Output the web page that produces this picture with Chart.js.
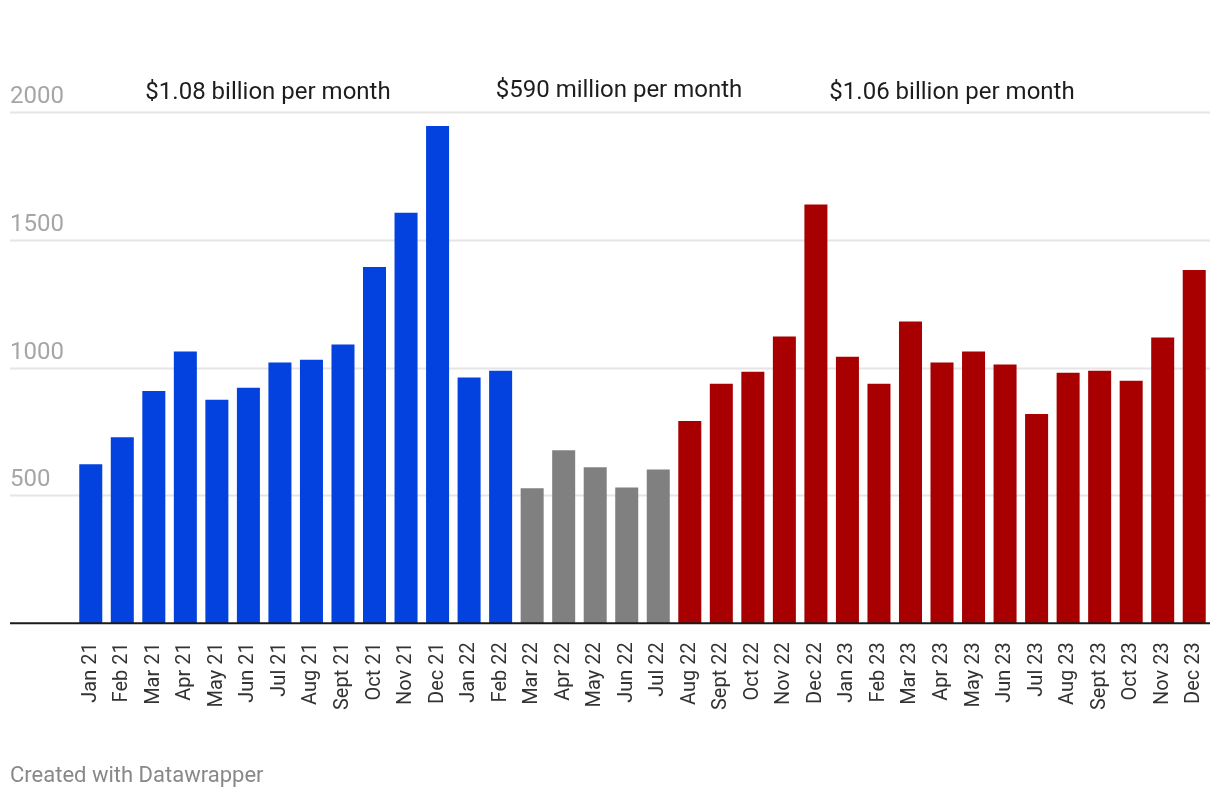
<!DOCTYPE html>
<html>
<head>
<meta charset="utf-8">
<script src="https://cdn.jsdelivr.net/npm/chart.js@4"></script>
<style>
  html, body { margin: 0; padding: 0; background: #fff; }
  #wrap { position: relative; width: 1220px; height: 800px; font-family: Roboto, sans-serif; }
  #chart { position: absolute; left: 0; top: 0; }
  .note { position: absolute; font-size: 24px; color: #1d1d1d; white-space: nowrap; transform: translateX(-50%); }
  #footer { position: absolute; left: 10px; top: 762px; font-size: 22px; color: #888; }
</style>
</head>
<body>
<div id="wrap">
  <canvas id="chart" width="1220" height="800"></canvas>
  <div class="note" style="left:268px; top:77px;">$1.08 billion per month</div>
  <div class="note" style="left:619px; top:75px;">$590 million per month</div>
  <div class="note" style="left:952px; top:77px;">$1.06 billion per month</div>
  <div id="footer">Created with Datawrapper</div>
</div>
<script>
// Monthly values
const months = [
  'Jan 21', 'Feb 21', 'Mar 21', 'Apr 21', 'May 21', 'Jun 21', 'Jul 21', 'Aug 21', 'Sept 21', 'Oct 21', 'Nov 21', 'Dec 21',
  'Jan 22', 'Feb 22', 'Mar 22', 'Apr 22', 'May 22', 'Jun 22', 'Jul 22', 'Aug 22', 'Sept 22', 'Oct 22', 'Nov 22', 'Dec 22',
  'Jan 23', 'Feb 23', 'Mar 23', 'Apr 23', 'May 23', 'Jun 23', 'Jul 23', 'Aug 23', 'Sept 23', 'Oct 23', 'Nov 23', 'Dec 23'
];
const values = [
  622, 728, 909, 1063, 874, 921, 1020, 1031, 1091, 1394, 1606, 1945,
  961, 988, 528, 677, 610, 531, 602, 791, 937, 984, 1122, 1638,
  1043, 937, 1181, 1020, 1063, 1012, 819, 980, 988, 949, 1118, 1382
];
// period each month belongs to: 0 = first, 1 = dip, 2 = recovery
const periods = [
  0, 0, 0, 0, 0, 0, 0, 0, 0, 0, 0, 0,
  0, 0, 1, 1, 1, 1, 1, 2, 2, 2, 2, 2,
  2, 2, 2, 2, 2, 2, 2, 2, 2, 2, 2, 2
];
const yTicks = [500, 1000, 1500, 2000];

const PERIOD_COLORS = ['#0342de', '#808080', '#a80000'];

// gridlines + left labels + baseline, spanning the full width like Datawrapper
const gridPlugin = {
  id: 'dwGrid',
  beforeDatasetsDraw(chart) {
    const ctx = chart.ctx;
    const y = chart.scales.y;
    const right = chart.chartArea.right;
    ctx.save();
    ctx.font = '24px Roboto, sans-serif';
    ctx.textAlign = 'left';
    ctx.textBaseline = 'alphabetic';
    yTicks.forEach(v => {
      const py = Math.round(y.getPixelForValue(v)) + 0.5;
      ctx.strokeStyle = '#e5e5e5';
      ctx.lineWidth = 2;
      ctx.beginPath();
      ctx.moveTo(10, py);
      ctx.lineTo(right, py);
      ctx.stroke();
      ctx.fillStyle = '#a6a6a6';
      ctx.fillText(String(v), 10, py - 10);
    });
    ctx.restore();
  },
  afterDatasetsDraw(chart) {
    const ctx = chart.ctx;
    const py = chart.scales.y.getPixelForValue(0);
    ctx.save();
    ctx.strokeStyle = '#1a1a1a';
    ctx.lineWidth = 2;
    ctx.beginPath();
    ctx.moveTo(10, py);
    ctx.lineTo(chart.chartArea.right, py);
    ctx.stroke();
    ctx.restore();
  }
};

new Chart(document.getElementById('chart').getContext('2d'), {
  type: 'bar',
  data: {
    labels: months,
    datasets: [{
      data: values,
      backgroundColor: periods.map(p => PERIOD_COLORS[p]),
      borderWidth: 0,
      barPercentage: 0.73,
      categoryPercentage: 1.0
    }]
  },
  options: {
    responsive: false,
    animation: false,
    layout: { padding: { left: 75, right: 10, top: 112, bottom: 79 } },
    plugins: { legend: { display: false }, tooltip: { enabled: false } },
    scales: {
      x: {
        grid: { display: false },
        border: { display: false },
        afterFit(scale) {
          // labels are narrow when rotated, no extra side room needed
          scale.paddingLeft = 0;
          scale.paddingRight = 0;
        },
        ticks: {
          minRotation: 90,
          maxRotation: 90,
          autoSkip: false,
          padding: 11,
          color: '#333',
          font: { family: 'Roboto', size: 20 }
        }
      },
      y: {
        display: false,
        min: 0,
        max: 2000
      }
    }
  },
  plugins: [gridPlugin]
});
</script>
</body>
</html>
